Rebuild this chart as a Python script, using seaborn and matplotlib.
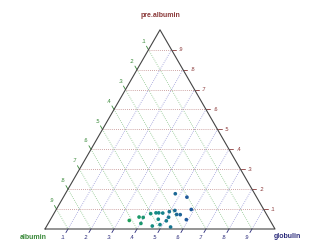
import numpy as np
import pandas as pd
import matplotlib
matplotlib.use("Agg")
import matplotlib.pyplot as plt
from matplotlib.colors import LinearSegmentedColormap
import seaborn as sns

# ternary composition of each sample (fractions)
albumin = [0.345, 0.303, 0.315, 0.612, 0.561, 0.544, 0.569, 0.502, 0.477, 0.465, 0.448,
           0.416, 0.389, 0.391, 0.376, 0.483, 0.433, 0.452, 0.489, 0.526, 0.449, 0.362]
globulin = [0.478, 0.537, 0.587, 0.345, 0.379, 0.398, 0.403, 0.421, 0.442, 0.454, 0.472,
            0.497, 0.518, 0.536, 0.552, 0.468, 0.508, 0.507, 0.489, 0.459, 0.541, 0.591]
pre_albumin = [0.177, 0.160, 0.098, 0.043, 0.060, 0.058, 0.028, 0.077, 0.081, 0.081, 0.080,
               0.087, 0.093, 0.073, 0.072, 0.049, 0.059, 0.041, 0.022, 0.015, 0.010, 0.047]

tick_values = [0.1, 0.2, 0.3, 0.4, 0.5, 0.6, 0.7, 0.8, 0.9]
tick_labels = [".1", ".2", ".3", ".4", ".5", ".6", ".7", ".8", ".9"]

col_pre = "#8b3a3a"
col_alb = "#3a8a3a"
col_glo = "#2a2a7a"
grid_pre = "#c08888"
grid_alb = "#88c488"
grid_glo = "#9898d8"

H = np.sqrt(3) / 2


def to_xy(a, g, p):
    a, g, p = np.asarray(a, float), np.asarray(g, float), np.asarray(p, float)
    s = a + g + p
    return (g + p / 2) / s, (p * H) / s


sns.set_theme(style="white")
plt.rcParams["font.family"] = ["Liberation Sans", "DejaVu Sans"]

fig = plt.figure(figsize=(3.21, 2.49), dpi=100)
ax = fig.add_axes([0, 0, 1, 1])
ax.set_xlim(-45 / 230, 276 / 230)
ax.set_ylim(-20 / 230, 229 / 230)

ext = 0.018
lab = 0.042
dots = (0, (1, 1.5))
for v, t in zip(tick_values, tick_labels):
    # pre.albumin constant: horizontal lines, ticks to the right
    x0, y0 = to_xy(1 - v, 0, v)
    x1, y1 = to_xy(0, 1 - v, v)
    ax.plot([x0, x1], [y0, y1], ls=dots, lw=0.6, color=grid_pre, zorder=1)
    ax.plot([x1, x1 + ext], [y1, y1], lw=0.6, color=col_pre, zorder=2)
    ax.text(x1 + lab, y1, t, color=col_pre, fontsize=4, ha="center", va="center")

    # albumin constant: parallel to right edge, ticks up-left
    x0, y0 = to_xy(v, 0, 1 - v)
    x1, y1 = to_xy(v, 1 - v, 0)
    ax.plot([x0, x1], [y0, y1], ls=dots, lw=0.6, color=grid_alb, zorder=1)
    dx, dy = -0.5, H
    ax.plot([x0, x0 + dx * ext], [y0, y0 + dy * ext], lw=0.6, color=col_alb, zorder=2)
    ax.text(x0 + dx * lab, y0 + dy * lab, t, color=col_alb, fontsize=4,
            ha="center", va="center")

    # globulin constant: parallel to left edge, ticks down-left
    x0, y0 = to_xy(1 - v, v, 0)
    x1, y1 = to_xy(0, v, 1 - v)
    ax.plot([x0, x1], [y0, y1], ls=dots, lw=0.6, color=grid_glo, zorder=1)
    dx, dy = -0.5, -H
    ax.plot([x0, x0 + dx * ext], [y0, y0 + dy * ext], lw=0.6, color=col_glo, zorder=2)
    ax.text(x0 + dx * lab, y0 + dy * lab, t, color=col_glo, fontsize=4,
            ha="center", va="center")

# triangle frame
tx, ty = to_xy([1, 0, 0, 1], [0, 1, 0, 0], [0, 0, 1, 0])
ax.plot(tx, ty, color="#444444", lw=0.8, zorder=3)

# axis titles
ax.text(0.5, H + 0.061, "pre.albumin", color=col_pre, fontsize=5, fontweight="bold",
        ha="center", va="center")
ax.text(-0.052, -0.035, "albumin", color=col_alb, fontsize=5, fontweight="bold",
        ha="center", va="center")
ax.text(1.052, -0.032, "globulin", color=col_glo, fontsize=5, fontweight="bold",
        ha="center", va="center")

# points, coloured from green to blue by globulin share
x, y = to_xy(albumin, globulin, pre_albumin)
ratio = np.array(globulin) / (np.array(albumin) + np.array(globulin))
cmap = LinearSegmentedColormap.from_list("ag", ["#1fa05a", "#148a88", "#1f5a9a"])
norm = (ratio - 0.36) / (0.62 - 0.36)
cols = [cmap(np.clip(n, 0, 1)) for n in norm]
df = pd.DataFrame({"x": x, "y": y, "id": range(len(x))})
sns.scatterplot(data=df, x="x", y="y", hue="id", palette=cols,
                s=7, linewidth=0, legend=False, ax=ax, zorder=4)
ax.set_xlabel("")
ax.set_ylabel("")
ax.axis("off")

fig.savefig("out.png", dpi=100)
